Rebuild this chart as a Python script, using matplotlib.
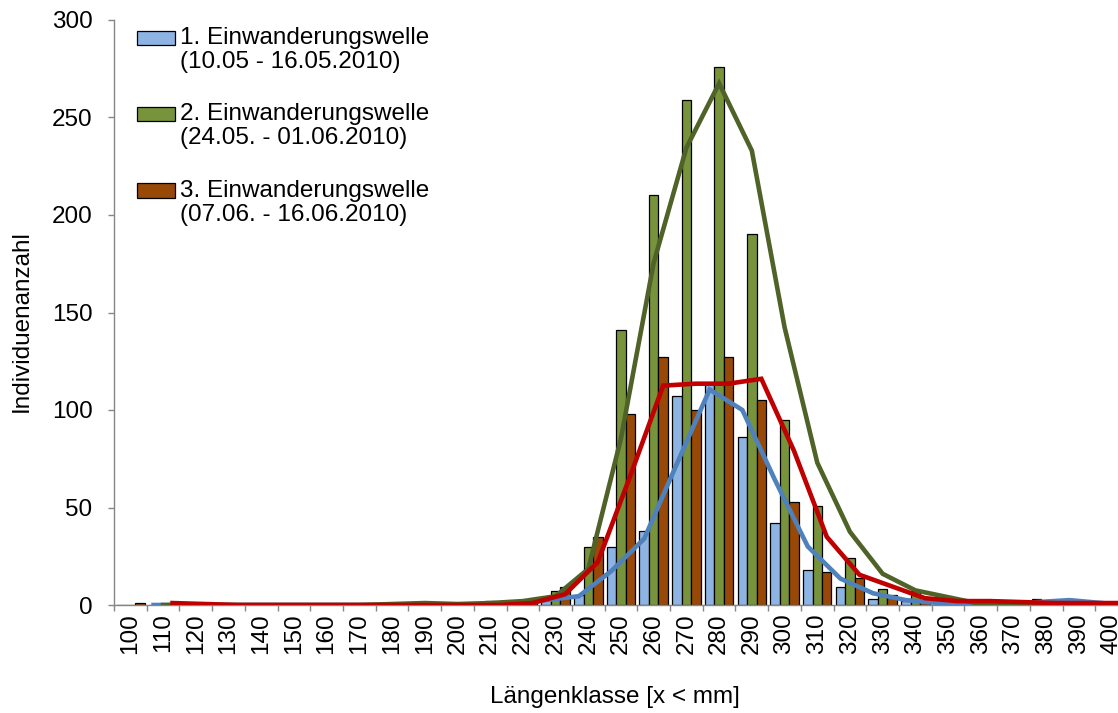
import numpy as np
import matplotlib.pyplot as plt
from matplotlib.container import BarContainer
from matplotlib.patches import Rectangle
from matplotlib.legend_handler import HandlerPatch, update_from_first_child

plt.rcParams['font.family'] = ['Liberation Sans', 'DejaVu Sans']

# Längenklassen [mm] und Individuenanzahl je Einwanderungswelle
klassen = list(range(100, 401, 10))
welle1 = [0, 0, 0, 0, 0, 0, 0, 0, 0, 0, 0, 0, 1, 4, 5, 30, 38, 107, 114, 86,
          42, 18, 9, 3, 2, 0, 0, 0, 3, 2, 0]
welle2 = [0, 0, 0, 0, 0, 0, 0, 0, 1, 1, 0, 2, 2, 7, 30, 141, 210, 259, 276, 190,
          95, 51, 24, 8, 7, 1, 0, 0, 0, 0, 0]
welle3 = [1, 1, 0, 0, 0, 0, 0, 0, 0, 0, 0, 0, 2, 9, 35, 98, 127, 100, 127, 105,
          53, 17, 14, 5, 2, 2, 2, 1, 1, 1, 1]
namen = ['1. Einwanderungswelle\n(10.05 - 16.05.2010)',
         '2. Einwanderungswelle\n(24.05. - 01.06.2010)',
         '3. Einwanderungswelle\n(07.06. - 16.06.2010)']

bar_farben = ['#8DB4E2', '#77933C', '#984807']
linien_farben = ['#4F81BD', '#4F6228', '#C00000']
fs = 17.5

fig = plt.figure(figsize=(11.18, 7.13), dpi=100)
ax = fig.add_axes([114 / 1118, 108 / 713, 1014 / 1118, 585 / 713])

x = np.arange(len(klassen))
w = 0.29
bars = []
for k, (werte, fc) in enumerate(zip([welle1, welle2, welle3], bar_farben)):
    b = ax.bar(x + (k - 1) * w, werte, w, color=fc, edgecolor='black',
               linewidth=0.9, zorder=2)
    bars.append(b)

# gleitender Durchschnitt (Periode 2) je Serie
for k, (werte, lc) in enumerate(zip([welle1, welle2, welle3], linien_farben)):
    v = np.array(werte, dtype=float)
    gd = (v[1:] + v[:-1]) / 2
    ax.plot(x[1:] + (k - 1) * w, gd, color=lc, lw=3.3, zorder=3,
            solid_joinstyle='miter')

ax.set_xlim(-0.5, len(klassen) - 0.5)
ax.set_ylim(0, 300)
ax.set_yticks(range(0, 301, 50))
ax.set_xticks(x, [str(k) for k in klassen], rotation=90)
ax.set_xticks(np.arange(len(klassen) + 1) - 0.5, minor=True)
ax.tick_params(axis='x', which='major', length=0, pad=6, labelsize=fs)
ax.tick_params(axis='x', which='minor', length=4.5, color='#868686', width=1)
ax.tick_params(axis='y', length=4.5, color='#868686', width=1, pad=11,
               labelsize=fs)
for s in ['top', 'right']:
    ax.spines[s].set_visible(False)
for s in ['left', 'bottom']:
    ax.spines[s].set_color('#868686')
    ax.spines[s].set_linewidth(1)

ax.set_ylabel('Individuenanzahl', fontsize=fs, va='center')
ax.yaxis.set_label_coords((22 - 114) / 1014, (605 - 321) / 585)
ax.set_xlabel('Längenklasse [x < mm]', fontsize=fs, va='center')
ax.xaxis.set_label_coords((615 - 114) / 1014, -(697 - 605) / 585)


# Legendenkästchen auf Höhe der ersten Textzeile
def obere_box(legend, orig_handle, xdescent, ydescent, width, height, fontsize):
    return Rectangle((-xdescent, -ydescent + 0.5 * fontsize), width, height)


leg = ax.legend(bars, namen, loc='upper left', frameon=False, fontsize=fs,
                bbox_to_anchor=(137 / 1118, 1 - 27 / 713),
                bbox_transform=fig.transFigure, borderpad=0, borderaxespad=0,
                handlelength=1.56, handleheight=0.535, handletextpad=0.22,
                labelspacing=1.25,
                handler_map={BarContainer: HandlerPatch(
                    patch_func=obere_box, update_func=update_from_first_child)})
for t in leg.get_texts():
    t.set_linespacing(1.12)

fig.savefig('out.png', dpi=100)
